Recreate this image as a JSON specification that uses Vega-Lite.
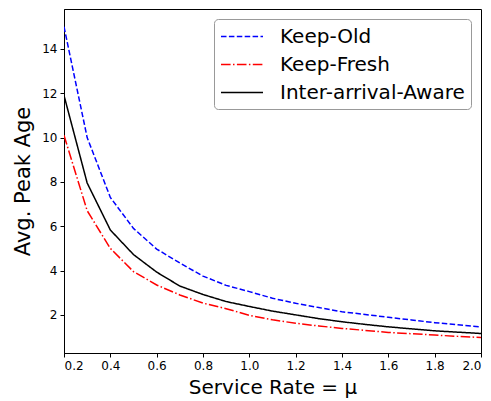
{
  "$schema": "https://vega.github.io/schema/vega-lite/v6.json",
  "autosize": {"type": "none"},
  "width": 417,
  "height": 344,
  "padding": {"left": 64, "top": 9, "right": 10, "bottom": 48},
  "background": "white",
  "config": {
    "font": "DejaVu Sans",
    "view": {"stroke": "black", "strokeWidth": 1},
    "axis": {"grid": false, "domainColor": "black", "tickColor": "black", "labelColor": "black", "titleColor": "black", "labelFont": "DejaVu Sans", "titleFont": "DejaVu Sans", "titleFontWeight": "normal", "tickSize": 4, "labelFontSize": 12, "labelPadding": 3},
    "legend": {"orient": "top-right", "offset": 10, "symbolType": "M-1,0H3", "symbolSize": 441, "symbolStrokeWidth": 1.5, "symbolFillColor": "transparent", "labelFontSize": 20, "labelFont": "DejaVu Sans", "labelColor": "black", "rowPadding": 6, "padding": 6, "strokeColor": "#999999", "fillColor": "white", "cornerRadius": 4, "labelOffset": 37, "labelLimit": 400}
  },
  "data": {"values": [
    {"mu": 0.2, "s": "Keep-Old", "v": 15.0},
    {"mu": 0.3, "s": "Keep-Old", "v": 10.0},
    {"mu": 0.4, "s": "Keep-Old", "v": 7.3},
    {"mu": 0.5, "s": "Keep-Old", "v": 5.9},
    {"mu": 0.6, "s": "Keep-Old", "v": 4.97},
    {"mu": 0.7, "s": "Keep-Old", "v": 4.34},
    {"mu": 0.8, "s": "Keep-Old", "v": 3.75},
    {"mu": 0.9, "s": "Keep-Old", "v": 3.33},
    {"mu": 1.0, "s": "Keep-Old", "v": 3.05},
    {"mu": 1.1, "s": "Keep-Old", "v": 2.75},
    {"mu": 1.2, "s": "Keep-Old", "v": 2.52},
    {"mu": 1.3, "s": "Keep-Old", "v": 2.33},
    {"mu": 1.4, "s": "Keep-Old", "v": 2.14},
    {"mu": 1.5, "s": "Keep-Old", "v": 2.02},
    {"mu": 1.6, "s": "Keep-Old", "v": 1.89},
    {"mu": 1.7, "s": "Keep-Old", "v": 1.77},
    {"mu": 1.8, "s": "Keep-Old", "v": 1.65},
    {"mu": 1.9, "s": "Keep-Old", "v": 1.55},
    {"mu": 2.0, "s": "Keep-Old", "v": 1.46},
    {"mu": 0.2, "s": "Keep-Fresh", "v": 10.1},
    {"mu": 0.3, "s": "Keep-Fresh", "v": 6.7},
    {"mu": 0.4, "s": "Keep-Fresh", "v": 5.0},
    {"mu": 0.5, "s": "Keep-Fresh", "v": 3.95},
    {"mu": 0.6, "s": "Keep-Fresh", "v": 3.35},
    {"mu": 0.7, "s": "Keep-Fresh", "v": 2.9},
    {"mu": 0.8, "s": "Keep-Fresh", "v": 2.53},
    {"mu": 0.9, "s": "Keep-Fresh", "v": 2.28},
    {"mu": 1.0, "s": "Keep-Fresh", "v": 1.98},
    {"mu": 1.1, "s": "Keep-Fresh", "v": 1.78},
    {"mu": 1.2, "s": "Keep-Fresh", "v": 1.62},
    {"mu": 1.3, "s": "Keep-Fresh", "v": 1.5},
    {"mu": 1.4, "s": "Keep-Fresh", "v": 1.39},
    {"mu": 1.5, "s": "Keep-Fresh", "v": 1.3},
    {"mu": 1.6, "s": "Keep-Fresh", "v": 1.21},
    {"mu": 1.7, "s": "Keep-Fresh", "v": 1.15},
    {"mu": 1.8, "s": "Keep-Fresh", "v": 1.09},
    {"mu": 1.9, "s": "Keep-Fresh", "v": 1.03},
    {"mu": 2.0, "s": "Keep-Fresh", "v": 0.98},
    {"mu": 0.2, "s": "Inter-arrival-Aware", "v": 11.9},
    {"mu": 0.3, "s": "Inter-arrival-Aware", "v": 7.95},
    {"mu": 0.4, "s": "Inter-arrival-Aware", "v": 5.83},
    {"mu": 0.5, "s": "Inter-arrival-Aware", "v": 4.72},
    {"mu": 0.6, "s": "Inter-arrival-Aware", "v": 3.93},
    {"mu": 0.7, "s": "Inter-arrival-Aware", "v": 3.3},
    {"mu": 0.8, "s": "Inter-arrival-Aware", "v": 2.92},
    {"mu": 0.9, "s": "Inter-arrival-Aware", "v": 2.6},
    {"mu": 1.0, "s": "Inter-arrival-Aware", "v": 2.38},
    {"mu": 1.1, "s": "Inter-arrival-Aware", "v": 2.17},
    {"mu": 1.2, "s": "Inter-arrival-Aware", "v": 2.0},
    {"mu": 1.3, "s": "Inter-arrival-Aware", "v": 1.83},
    {"mu": 1.4, "s": "Inter-arrival-Aware", "v": 1.69},
    {"mu": 1.5, "s": "Inter-arrival-Aware", "v": 1.57},
    {"mu": 1.6, "s": "Inter-arrival-Aware", "v": 1.46},
    {"mu": 1.7, "s": "Inter-arrival-Aware", "v": 1.37},
    {"mu": 1.8, "s": "Inter-arrival-Aware", "v": 1.28},
    {"mu": 1.9, "s": "Inter-arrival-Aware", "v": 1.22},
    {"mu": 2.0, "s": "Inter-arrival-Aware", "v": 1.16}
  ]},
  "mark": {"type": "line", "strokeWidth": 1.5, "clip": true},
  "encoding": {
    "x": {"field": "mu", "type": "quantitative", "scale": {"domain": [0.2, 2.0], "nice": false, "zero": false},
      "axis": {"values": [0.2, 0.4, 0.6, 0.8, 1.0, 1.2, 1.4, 1.6, 1.8, 2.0], "format": ".1f", "title": "Service Rate = μ", "titleFontSize": 20, "titlePadding": 6}},
    "y": {"field": "v", "type": "quantitative", "scale": {"domain": [0.28, 15.8], "nice": false, "zero": false},
      "axis": {"values": [2, 4, 6, 8, 10, 12, 14], "title": "Avg. Peak Age", "titleFontSize": 21, "titlePadding": 8}},
    "color": {"field": "s", "type": "nominal", "sort": ["Keep-Old", "Keep-Fresh", "Inter-arrival-Aware"],
      "scale": {"domain": ["Keep-Old", "Keep-Fresh", "Inter-arrival-Aware"], "range": ["#0000ff", "#ff0000", "#000000"]},
      "legend": {"title": null}},
    "strokeDash": {"field": "s", "type": "nominal", "sort": ["Keep-Old", "Keep-Fresh", "Inter-arrival-Aware"],
      "scale": {"domain": ["Keep-Old", "Keep-Fresh", "Inter-arrival-Aware"], "range": [[5.5, 2.4], [9.6, 2.4, 1.5, 2.4], [1, 0]]},
      "legend": {"title": null}}
  }
}
